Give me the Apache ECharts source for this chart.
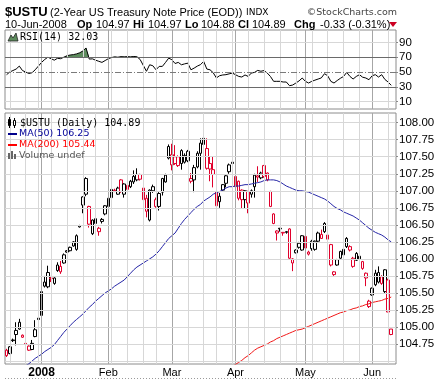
<!DOCTYPE html>
<html><head><meta charset="utf-8">
<script src="https://cdn.jsdelivr.net/npm/echarts@6/dist/echarts.min.js"></script>
<style>html,body{margin:0;padding:0;background:#fff}#c{width:439px;height:380px}</style>
</head><body><div id="c"></div>
<script>
const dates = [
'2007-12-14','2007-12-17','2007-12-18','2007-12-19','2007-12-20','2007-12-21','2007-12-24','2007-12-26','2007-12-27','2007-12-28','2007-12-31',
'2008-01-02','2008-01-03','2008-01-04','2008-01-07','2008-01-08','2008-01-09','2008-01-10','2008-01-11','2008-01-14','2008-01-15','2008-01-16','2008-01-17','2008-01-18','2008-01-22','2008-01-23','2008-01-24','2008-01-25','2008-01-28','2008-01-29','2008-01-30','2008-01-31',
'2008-02-01','2008-02-04','2008-02-05','2008-02-06','2008-02-07','2008-02-08','2008-02-11','2008-02-12','2008-02-13','2008-02-14','2008-02-15','2008-02-19','2008-02-20','2008-02-21','2008-02-22','2008-02-25','2008-02-26','2008-02-27','2008-02-28','2008-02-29',
'2008-03-03','2008-03-04','2008-03-05','2008-03-06','2008-03-07','2008-03-10','2008-03-11','2008-03-12','2008-03-13','2008-03-14','2008-03-17','2008-03-18','2008-03-19','2008-03-20','2008-03-24','2008-03-25','2008-03-26','2008-03-27','2008-03-28','2008-03-31',
'2008-04-01','2008-04-02','2008-04-03','2008-04-04','2008-04-07','2008-04-08','2008-04-09','2008-04-10','2008-04-11','2008-04-14','2008-04-15','2008-04-16','2008-04-17','2008-04-18','2008-04-21','2008-04-22','2008-04-23','2008-04-24','2008-04-25','2008-04-28','2008-04-29','2008-04-30',
'2008-05-01','2008-05-02','2008-05-05','2008-05-06','2008-05-07','2008-05-08','2008-05-09','2008-05-12','2008-05-13','2008-05-14','2008-05-15','2008-05-16','2008-05-19','2008-05-20','2008-05-21','2008-05-22','2008-05-23','2008-05-27','2008-05-28','2008-05-29','2008-05-30',
'2008-06-02','2008-06-03','2008-06-04','2008-06-05','2008-06-06','2008-06-09','2008-06-10'];

const opens = [104.66,104.61,104.81,104.89,104.97,104.88,104.76,104.72,104.67,104.86,
105.13,105.17,105.66,105.59,105.72,105.64,105.83,105.81,105.94,106.12,
106.12,106.25,106.14,106.49,106.91,107.18,106.77,106.37,106.52,106.40,
106.55,106.78,106.77,106.90,107.01,106.95,107.16,106.95,107.02,107.06,
107.13,107.16,107.24,107.04,106.89,106.57,107.00,106.87,106.77,107.18,
107.13,107.48,107.38,107.50,107.50,107.59,107.52,107.44,107.14,107.16,
107.55,107.55,107.68,107.62,107.40,107.31,106.99,106.84,107.01,107.11,
107.28,107.42,107.21,107.14,107.01,106.87,106.99,106.95,107.06,107.20,
107.19,107.37,107.26,106.99,106.66,106.38,106.45,106.39,106.40,106.44,
105.94,106.09,106.23,106.13,106.33,106.10,106.26,106.14,106.26,106.30,
106.52,106.35,106.21,105.77,105.91,106.01,106.06,106.18,106.18,106.01,
106.08,106.04,105.96,105.72,105.38,105.47,105.62,105.66,105.74,105.52,
105.69,104.97];
const highs = [104.68,104.72,104.83,105.07,105.12,104.89,104.76,104.73,104.81,105.10,
105.14,105.53,105.75,105.90,105.75,105.73,105.95,105.97,106.08,106.13,
106.18,106.26,106.36,106.50,106.92,107.20,106.78,106.58,106.61,106.47,
106.60,106.79,106.91,107.04,107.03,107.06,107.17,107.11,107.10,107.16,
107.30,107.33,107.25,107.07,106.94,107.02,107.09,106.90,106.98,107.19,
107.25,107.68,107.69,107.67,107.52,107.61,107.55,107.60,107.26,107.38,
107.58,107.77,107.99,107.77,107.50,107.50,107.00,106.97,107.10,107.24,
107.40,107.45,107.49,107.15,107.02,107.01,107.00,107.02,107.25,107.36,
107.28,107.38,107.27,107.00,106.67,106.42,106.45,106.39,106.41,106.45,
106.01,106.14,106.25,106.35,106.36,106.12,106.28,106.27,106.40,106.43,
106.54,106.37,106.22,105.82,106.00,106.12,106.16,106.32,106.20,106.03,
106.10,106.06,105.97,105.80,105.40,105.58,105.84,105.89,105.76,105.85,
105.71,104.97];
const lows = [104.56,104.60,104.78,104.73,104.96,104.84,104.70,104.65,104.66,104.85,
105.10,105.15,105.58,105.57,105.66,105.62,105.81,105.78,105.93,106.09,
106.11,106.18,106.12,106.46,106.67,106.92,106.46,106.35,106.50,106.34,
106.52,106.64,106.76,106.88,106.98,106.94,106.97,106.90,107.00,107.04,
107.10,107.14,107.15,106.84,106.61,106.55,106.97,106.75,106.71,106.93,
107.12,107.46,107.30,107.38,107.35,107.31,107.40,107.42,107.11,106.98,
107.33,107.31,107.67,107.31,107.14,107.05,106.72,106.75,106.99,107.05,
107.25,107.37,107.04,106.86,106.74,106.74,106.67,106.90,106.90,107.13,
107.17,107.19,107.14,106.76,106.51,106.27,106.40,106.34,106.37,106.00,
105.82,106.08,106.15,106.12,106.01,106.05,106.12,106.12,106.24,106.30,
106.38,106.27,105.89,105.75,105.90,106.00,106.04,106.16,106.11,105.87,
105.97,105.99,105.84,105.60,105.28,105.46,105.60,105.64,105.62,105.50,
105.22,104.88];
const closes = [104.58,104.71,104.80,104.95,105.07,104.85,104.75,104.66,104.76,104.96,
105.11,105.52,105.60,105.80,105.71,105.72,105.91,105.89,106.06,106.10,
106.17,106.19,106.34,106.47,106.79,106.95,106.51,106.57,106.59,106.45,
106.58,106.66,106.89,107.02,107.00,107.04,106.99,107.10,107.08,107.14,
107.21,107.24,107.17,106.87,106.70,107.01,107.06,106.77,106.96,106.98,
107.23,107.65,107.53,107.40,107.37,107.40,107.42,107.58,107.18,107.34,
107.35,107.70,107.77,107.33,107.32,107.24,106.78,106.92,107.09,107.22,
107.38,107.40,107.06,106.89,106.87,107.00,106.82,107.00,107.23,107.22,
107.26,107.21,107.16,106.77,106.52,106.41,106.44,106.38,106.39,106.01,
106.00,106.13,106.17,106.34,106.16,106.07,106.15,106.26,106.38,106.36,
106.40,106.29,105.91,105.81,105.99,106.11,106.14,106.30,106.13,105.89,
105.98,106.00,105.86,105.79,105.30,105.57,105.79,105.80,105.64,105.84,
105.22,104.89];

const ma50 = [null,null,null,null,null,null,104.43,
104.46,104.50,104.54,104.57,104.60,104.64,104.67,104.70,104.74,104.80,
104.86,104.92,104.97,105.02,105.07,105.11,105.15,105.19,105.24,105.29,
105.33,105.38,105.42,105.46,105.50,105.53,105.56,105.60,105.63,105.66,
105.69,105.74,105.79,105.84,105.88,105.91,105.94,105.97,106.00,106.03,
106.07,106.12,106.18,106.24,106.30,106.34,106.38,106.45,106.52,106.58,
106.63,106.68,106.73,106.77,106.80,106.85,106.88,106.91,106.95,106.97,
106.99,107.01,107.04,107.06,107.06,107.07,107.07,107.08,107.09,107.09,
107.10,107.11,107.12,107.13,107.15,107.16,107.16,107.16,107.15,107.13,
107.10,107.07,107.05,107.03,107.01,107.00,107.00,106.99,106.98,106.96,
106.94,106.92,106.90,106.88,106.85,106.81,106.77,106.74,106.72,106.69,
106.67,106.65,106.63,106.60,106.57,106.53,106.49,106.45,106.42,106.39,
106.37,106.35,106.32,106.28,106.25];

const ma200 = [null,null,null,null,null,null,null,null,null,null,
null,null,null,null,null,null,null,null,null,null,
null,null,null,null,null,null,null,null,null,null,
null,null,null,null,null,null,null,null,null,null,
null,null,null,null,null,null,null,null,null,null,
null,null,null,null,null,null,null,null,null,null,
null,null,null,null,null,null,null,null,null,null,
null,104.42,104.45,104.48,104.51,104.55,104.58,104.62,104.66,104.69,
104.71,104.73,104.75,104.78,104.80,104.83,104.85,104.87,104.89,104.91,
104.93,104.95,104.96,104.97,104.99,105.01,105.03,105.05,105.07,105.09,
105.11,105.13,105.15,105.17,105.19,105.21,105.22,105.24,105.25,105.27,
105.28,105.30,105.31,105.33,105.34,105.36,105.37,105.38,105.39,105.41,
105.42,105.44];

const rsi14 = [46.4,50,52,54,58,52,50,48,49,53,
58,63,67,70,68,66,68.5,68,70,72,
73,73.5,74.5,76,78.5,82.5,67.5,67.8,66,64.5,
63,65.5,68,69.5,70.5,70,70.8,70.5,70.8,70.5,
71,70.6,67,59,51,59.8,58.5,53,57.6,57.6,
63,68.8,66.6,61.5,63,59.8,61,62,53,55.3,
58,60,64.3,54,53,49,42,45,46,46.4,
47.5,48.6,46.4,44.1,43.2,46,44.1,48.6,49.5,52.2,
51,52,48.6,44,37.4,37.4,37.4,36.5,36.5,31.5,
32.4,35.1,38,41.9,37.4,35.1,37.4,39,40.5,42,
47.7,45,37.4,35.1,38.5,41.5,44,49.5,44.1,40.5,
44,46.4,43,41.9,39.6,45,46.4,43.2,46.4,40,
36.5,32.03];

const priceTicks = [104.75,105.00,105.25,105.50,105.75,106.00,106.25,106.50,106.75,107.00,107.25,107.50,107.75,108.00];
const priceGridLines = [104.50].concat(priceTicks);
const rsiTicks = [10,30,50,70,90];
const rsiBands = [30,70];
const rsiMid = 50;
const monthNames = ['Jan','Feb','Mar','Apr','May','Jun','Jul','Aug','Sep','Oct','Nov','Dec'];

const cats = dates.concat(['']);
const N = dates.length;
const RED = '#e0002c', BLK = '#000000';
const dObj = dates.map(s => new Date(s + 'T00:00:00Z'));
const monthIdx = [], weekIdx = [];
for (let i = 1; i < N; i++) {
  const a = dObj[i - 1], b = dObj[i];
  if (a.getUTCMonth() !== b.getUTCMonth()) monthIdx.push(i);
  else if (b.getUTCDay() < a.getUTCDay() || (b - a) >= 7 * 864e5) weekIdx.push(i);
}
const monthSet = new Set(monthIdx);

const candleData = dates.map((d, i) => {
  const o = opens[i], c = closes[i];
  const prev = i > 0 ? closes[i - 1] : Infinity;
  const col = c > prev ? BLK : RED;
  return { value: [o, c, lows[i], highs[i]],
    itemStyle: { color: '#ffffff', color0: col, borderColor: col, borderColor0: col, borderColorDoji: col, borderWidth: 1 } };
});

const vLines = [];
weekIdx.forEach(i => vLines.push({ xAxis: cats[i], lineStyle: { color: '#d7d7d7', width: 1, type: 'solid' } }));
monthIdx.forEach(i => vLines.push({ xAxis: cats[i], lineStyle: { color: '#a6a6a6', width: 1, type: 'solid' } }));

const rsiH = [];
rsiTicks.forEach(v => {
  let ls = { color: '#d7d7d7', width: 1, type: 'solid' };
  if (rsiBands.indexOf(v) >= 0) ls = { color: '#6a6a6a', width: 1, type: 'solid' };
  if (v === rsiMid) ls = { color: '#7a7a7a', width: 1, type: [6, 2, 1, 2] };
  rsiH.push({ yAxis: v, lineStyle: ls });
});
const priceH = priceGridLines.map(v => ({ yAxis: v, lineStyle: { color: '#d7d7d7', width: 1, type: 'solid' } }));

const mk = (data) => ({ silent: true, symbol: 'none', label: { show: false }, animation: false, emphasis: { disabled: true }, data: data });

const lastC = closes[N - 1], prevC = closes[N - 2];
const chg = lastC - prevC;
const fmtDate = (s) => { const d = new Date(s + 'T00:00:00Z'); return String(d.getUTCDate()).padStart(2, '0') + '-' + monthNames[d.getUTCMonth()] + '-' + d.getUTCFullYear(); };
const lastNonNull = a => { for (let i = a.length - 1; i >= 0; i--) if (a[i] != null) return a[i]; };

const T = (x, y, text, font, fill, align) => ({ type: 'text', x: x, y: y, silent: true, z: 100,
  style: { text: text, font: font, fill: fill || '#000', align: align || 'left', verticalAlign: 'middle', textAlign: align || 'left', textVerticalAlign: 'middle' } });
const F = '"Liberation Sans", Arial, sans-serif';
const FB = 'bold 11px ' + F;
const FN = '11px ' + F;

const graphics = [
  T(5, 12, '$USTU', 'bold 13px ' + F),
  T(50, 12.5, '(2-Year US Treasury Note Price (EOD))', FN),
  T(246, 12.5, 'INDX', '9px "DejaVu Sans"'),
  T(397, 12.5, '\u00A9StockCharts.com', '9.5px "DejaVu Sans"', '#444', 'right'),
  T(5, 24.5, fmtDate(dates[N - 1]), FN),
  T(77, 24.5, 'Op', FB), T(96, 24.5, opens[N - 1].toFixed(2), FN),
  T(133, 24.5, 'Hi', FB), T(148, 24.5, highs[N - 1].toFixed(2), FN),
  T(185, 24.5, 'Lo', FB), T(201, 24.5, lows[N - 1].toFixed(2), FN),
  T(238, 24.5, 'Cl', FB), T(252, 24.5, lastC.toFixed(2), FN),
  T(294, 24.5, 'Chg', FB), T(320, 24.5, chg.toFixed(2) + ' (' + (chg / prevC * 100).toFixed(2) + '%)', FN),
  { type: 'polygon', silent: true, z: 100, shape: { points: [[389, 22], [397, 22], [393, 27]] }, style: { fill: '#cc0022' } },
  { type: 'polygon', silent: true, z: 100, shape: { points: [[8, 41], [11, 35], [13, 38], [16, 33], [18, 41]] }, style: { fill: '#5e8c5e', stroke: '#222', lineWidth: 0.8 } },
  T(20, 37.5, 'RSI(14) ' + rsi14[N - 1].toFixed(2), '10px "DejaVu Sans Mono", monospace'),
  { type: 'rect', silent: true, z: 100, shape: { x: 8.5, y: 119.5, width: 2, height: 6 }, style: { fill: '#000', stroke: '#000' } },
  { type: 'line', silent: true, z: 100, shape: { x1: 9.5, y1: 117, x2: 9.5, y2: 128 }, style: { stroke: '#000' } },
  { type: 'rect', silent: true, z: 100, shape: { x: 13.5, y: 120.5, width: 2, height: 5 }, style: { fill: '#fff', stroke: '#000' } },
  { type: 'line', silent: true, z: 100, shape: { x1: 14.5, y1: 118, x2: 14.5, y2: 120.5 }, style: { stroke: '#000' } },
  { type: 'line', silent: true, z: 100, shape: { x1: 14.5, y1: 125.5, x2: 14.5, y2: 128 }, style: { stroke: '#000' } },
  T(20, 123, '$USTU (Daily) ' + lastC.toFixed(2), '10px "DejaVu Sans Mono", monospace'),
  { type: 'line', silent: true, z: 100, shape: { x1: 8, y1: 134, x2: 17, y2: 134 }, style: { stroke: '#00008b', lineWidth: 2 } },
  T(19, 134, 'MA(50) ' + lastNonNull(ma50).toFixed(2), '9.5px "DejaVu Sans"', '#000099'),
  { type: 'line', silent: true, z: 100, shape: { x1: 8, y1: 145, x2: 17, y2: 145 }, style: { stroke: '#ff0000', lineWidth: 2 } },
  T(19, 145, 'MA(200) ' + lastNonNull(ma200).toFixed(2), '9.5px "DejaVu Sans"', '#ff0000'),
  { type: 'rect', silent: true, z: 100, shape: { x: 8, y: 153, width: 2, height: 6 }, style: { fill: '#666' } },
  { type: 'rect', silent: true, z: 100, shape: { x: 11, y: 151, width: 2, height: 8 }, style: { fill: '#666' } },
  { type: 'rect', silent: true, z: 100, shape: { x: 14, y: 154, width: 2, height: 5 }, style: { fill: '#666' } },
  T(19, 156, 'Volume undef', '9.5px "DejaVu Sans"', '#555'),
  { type: 'line', silent: true, z: 100, shape: { x1: 5, y1: 378.5, x2: 396, y2: 378.5 }, style: { stroke: '#9a9a9a', lineDash: [1, 2] } }
];

const chart = echarts.init(document.getElementById('c'), null, { renderer: 'canvas', width: 439, height: 380 });
chart.setOption({
  animation: false,
  backgroundColor: '#ffffff',
  grid: [
    { left: 5, right: 43, top: 30, height: 79, show: true, borderColor: '#8c8c8c', borderWidth: 1, backgroundColor: '#ffffff', containLabel: false },
    { left: 5, right: 43, top: 113, height: 251, show: true, borderColor: '#8c8c8c', borderWidth: 1, backgroundColor: '#ffffff', containLabel: false }
  ],
  xAxis: [
    { type: 'category', gridIndex: 0, data: cats, boundaryGap: true, axisLine: { show: false }, axisTick: { show: false }, axisLabel: { show: false }, splitLine: { show: false } },
    { type: 'category', gridIndex: 1, data: cats, boundaryGap: true, axisLine: { show: false }, axisTick: { show: false }, splitLine: { show: false },
      axisLabel: { interval: (i) => monthSet.has(i), margin: 3, fontSize: 11, fontFamily: 'Liberation Sans', color: '#000',
        formatter: (v) => { const d = new Date(v + 'T00:00:00Z'); return d.getUTCMonth() === 0 ? '{b|' + d.getUTCFullYear() + '}' : monthNames[d.getUTCMonth()]; },
        rich: { b: { fontWeight: 'bold', fontSize: 12, fontFamily: 'Liberation Sans', color: '#000' } } } }
  ],
  yAxis: [
    { type: 'value', gridIndex: 0, position: 'right', min: 0, max: 106.8, axisLine: { show: false },
      axisTick: { show: true, length: 2, lineStyle: { color: '#888' }, customValues: rsiTicks },
      axisLabel: { customValues: rsiTicks, margin: 3, fontSize: 11.5, fontFamily: 'Liberation Sans', color: '#000' }, splitLine: { show: false } },
    { type: 'value', gridIndex: 1, position: 'right', min: 104.457, max: 108.142, axisLine: { show: false },
      axisTick: { show: true, length: 2, lineStyle: { color: '#888' }, customValues: priceTicks },
      axisLabel: { customValues: priceTicks, formatter: (v) => v.toFixed(2), margin: 3, fontSize: 11.5, fontFamily: 'Liberation Sans', color: '#000' }, splitLine: { show: false } }
  ],
  series: [
    { name: 'rsiGrid', type: 'line', xAxisIndex: 0, yAxisIndex: 0, data: cats.map(() => null), silent: true, z: 1, symbol: 'none', lineStyle: { opacity: 0 }, markLine: mk(vLines.concat(rsiH)) },
    { name: 'rsiBase', type: 'line', xAxisIndex: 0, yAxisIndex: 0, stack: 'ob', data: rsi14.map(() => rsiBands[1]), symbol: 'none', silent: true, lineStyle: { opacity: 0 }, z: 2 },
    { name: 'rsiOver', type: 'line', xAxisIndex: 0, yAxisIndex: 0, stack: 'ob', data: rsi14.map(v => Math.max(v - rsiBands[1], 0)), symbol: 'none', silent: true, lineStyle: { width: 0, opacity: 0 }, areaStyle: { color: '#5e8c5e', opacity: 1 }, z: 2 },
    { name: 'RSI', type: 'line', xAxisIndex: 0, yAxisIndex: 0, data: rsi14, symbol: 'none', silent: true, lineStyle: { color: '#000', width: 1 }, z: 4 },
    { name: 'priceGrid', type: 'line', xAxisIndex: 1, yAxisIndex: 1, data: cats.map(() => null), silent: true, z: 1, symbol: 'none', lineStyle: { opacity: 0 }, markLine: mk(vLines.concat(priceH)) },
    { name: '$USTU', type: 'candlestick', xAxisIndex: 1, yAxisIndex: 1, data: candleData, barWidth: 3, silent: true, z: 3 },
    { name: 'MA50', type: 'line', xAxisIndex: 1, yAxisIndex: 1, data: ma50, symbol: 'none', silent: true, clip: true, lineStyle: { color: '#2626a6', width: 1 }, z: 4 },
    { name: 'MA200', type: 'line', xAxisIndex: 1, yAxisIndex: 1, data: ma200, symbol: 'none', silent: true, clip: true, lineStyle: { color: '#f01818', width: 1 }, z: 4 }
  ],
  graphic: graphics
});
</script></body></html>
